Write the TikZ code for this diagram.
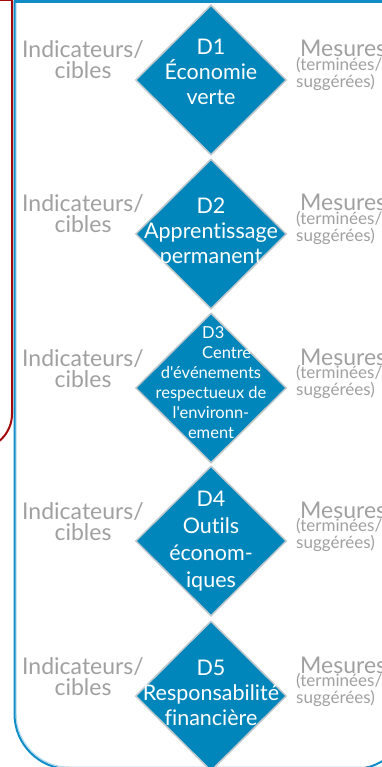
\documentclass[tikz,border=0pt]{standalone}
\usepackage{fontspec}
\newfontfamily\lato{Lato}[Ligatures=NoCommon]
\usetikzlibrary{shapes.geometric}
\definecolor{dfill}{RGB}{0,134,186}
\definecolor{dedge}{RGB}{192,200,206}
\definecolor{gtext}{RGB}{160,160,160}
\definecolor{frameblue}{RGB}{16,141,199}
\definecolor{framelight}{RGB}{175,218,240}
\definecolor{framered}{RGB}{165,10,10}
\tikzset{
  dia/.style={shape=diamond, minimum width=151pt, minimum height=150pt, inner sep=0pt,
    draw=dedge, line width=1.5pt, fill=dfill},
  dtxt/.style={text=white, align=center, anchor=base, inner sep=0pt,
    font=\lato\fontsize{21.5}{25}\selectfont},
  dsmall/.style={text=white, inner sep=0pt, font=\lato\fontsize{16.5}{20}\selectfont},
  ltxt/.style={text=gtext, align=center, anchor=base, inner sep=0pt,
    font=\lato\fontsize{23}{21}\selectfont},
  mtxt/.style={text=gtext, anchor=base west, inner sep=0pt,
    font=\lato\fontsize{23}{21}\selectfont},
  stxt/.style={text=gtext, align=left, anchor=base west, inner sep=0pt,
    font=\lato\fontsize{17}{13.5}\selectfont}
}
\begin{document}
\begin{tikzpicture}[x=1pt,y=-1pt]
\useasboundingbox (0,0) rectangle (381,767);
% red frame (left)
\draw[framered, line width=1pt] (0,0.5) -- (12.5,0.5);
\draw[framered, line width=2pt, rounded corners=35pt] (12,0) -- (12,449) -- (-23,449);
% blue frame
\draw[framelight, line width=1pt] (16.2,3) -- (400,3);
\draw[framelight, line width=1pt, rounded corners=53pt] (16.2,3) -- (16.2,767) -- (407,767);
\draw[frameblue, line width=2.5pt] (13.5,1.3) -- (400,1.3);
\draw[frameblue, line width=2pt, rounded corners=55pt] (14.5,1) -- (14.5,769) -- (409,769) -- (409,1);
% rows (multi-line nodes are anchored at their last baseline)
\foreach \i/\c in {1/80,2/234,3/388,4/541,5/696}{
  \node[dia] (d\i) at (211,\c) {};
  \node[ltxt] (l\i) at (83,\c-1) {Indicateurs/\\cibles};
  \node[mtxt] (m\i) at (300,\c-23) {Mesures};
  \node[stxt] (s\i) at (296,\c+7.5) {(terminées/\\suggérées)};
}
\node[dtxt] (t1) at (211,105) {D1\\Économie\\verte};
\node[dtxt] (t2) at (211,263) {D2\\Apprentissage\\permanent};
\node[dsmall, anchor=base west, align=left] (t3a) at (202,358) {D3\\Centre};
\node[dsmall, anchor=base, align=center] (t3b) at (211,438) {d'événements\\respectueux de\\l'environn-\\ement};
\node[dtxt, font=\lato\fontsize{21.5}{26.7}\selectfont] (t4) at (211,587) {D4\\Outils\\économ-\\iques};
\node[dtxt] (t5) at (211,725) {D5\\Responsabilité\\financière};
\end{tikzpicture}
\end{document}
